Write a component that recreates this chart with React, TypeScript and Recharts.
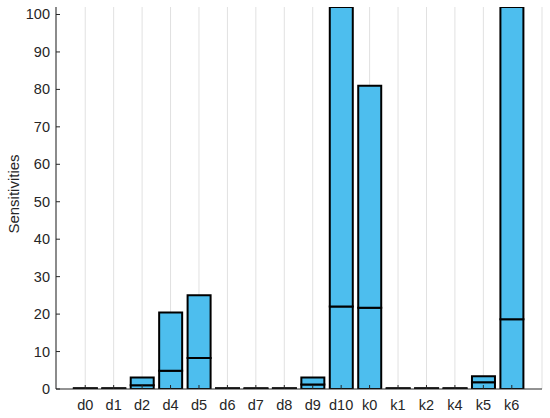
import { BarChart, Bar, XAxis, YAxis, CartesianGrid, Label } from "recharts";

const categories = ["d0", "d1", "d2", "d4", "d5", "d6", "d7", "d8", "d9", "d10", "k0", "k1", "k2", "k4", "k5", "k6"];
// lower part of each bar
const lowerValues = [0.1, 0.1, 1.0, 4.9, 8.3, 0.1, 0.1, 0.1, 1.2, 22.0, 21.7, 0.1, 0.1, 0.1, 1.8, 18.6];
// upper part stacked on top (d10 and k6 run past the axis limit)
const upperValues = [0.1, 0.1, 2.1, 15.5, 16.7, 0.1, 0.1, 0.1, 1.9, 118, 59.3, 0.1, 0.1, 0.1, 1.6, 121.4];
const yTicks = [0, 10, 20, 30, 40, 50, 60, 70, 80, 90, 100];

const data = categories.map((name, i) => ({
  name,
  lower: lowerValues[i],
  upper: upperValues[i],
}));

const FONT = "'Liberation Sans', Arial, sans-serif";
const INK = "#262626";
const FILL = "#4DBEEE";
const TICK_LEN = 4;

const BottomTick = (props: any) => {
  const { x, y, payload } = props;
  return (
    <g>
      <line x1={x} x2={x} y1={y} y2={y - TICK_LEN} stroke={INK} strokeWidth={1} />
      <text x={x} y={y + 21} textAnchor="middle" fill={INK} fontSize={14.5} fontFamily={FONT}>
        {payload.value}
      </text>
    </g>
  );
};

const TopTick = (props: any) => {
  const { x, y } = props;
  return <line x1={x} x2={x} y1={y} y2={y + TICK_LEN} stroke={INK} strokeWidth={1} />;
};

const LeftTick = (props: any) => {
  const { x, y, payload } = props;
  return (
    <g>
      <line x1={x} x2={x + TICK_LEN} y1={y} y2={y} stroke={INK} strokeWidth={1} />
      <text x={x - 6} y={y + 5} textAnchor="end" fill={INK} fontSize={14.5} fontFamily={FONT}>
        {payload.value}
      </text>
    </g>
  );
};

const RightTick = (props: any) => {
  const { x, y } = props;
  return <line x1={x} x2={x - TICK_LEN} y1={y} y2={y} stroke={INK} strokeWidth={1} />;
};

export default function App() {
  return (
    <div style={{ position: "absolute", left: 0, top: 0, background: "#fff" }}>
      <BarChart
        width={550}
        height={418}
        data={data}
        margin={{ top: 7, right: 8, bottom: 0, left: 0 }}
        barCategoryGap="10%"
      >
        <CartesianGrid horizontal={false} stroke="#e1e1e1" strokeWidth={1} />
        <XAxis
          dataKey="name"
          height={29}
          padding={{ left: 15, right: 16 }}
          tickSize={0}
          tickMargin={0}
          tickLine={false}
          interval={0}
          axisLine={{ stroke: INK }}
          tick={<BottomTick />}
        />
        <XAxis
          xAxisId="top"
          dataKey="name"
          orientation="top"
          height={0}
          padding={{ left: 15, right: 16 }}
          tickSize={0}
          tickMargin={0}
          tickLine={false}
          interval={0}
          axisLine={{ stroke: INK }}
          tick={<TopTick />}
        />
        <YAxis
          width={56}
          domain={[0, 102]}
          ticks={yTicks}
          allowDataOverflow
          tickSize={0}
          tickMargin={0}
          tickLine={false}
          interval={0}
          axisLine={{ stroke: INK }}
          tick={<LeftTick />}
        >
          <Label
            content={(p: any) => {
              const vb = p.viewBox;
              const cx = 13;
              const cy = vb.y + vb.height / 2 - 4;
              return (
                <text
                  x={cx}
                  y={cy}
                  transform={`rotate(-90 ${cx} ${cy})`}
                  textAnchor="middle"
                  dominantBaseline="central"
                  fill={INK}
                  fontSize={15}
                  fontFamily={FONT}
                >
                  Sensitivities
                </text>
              );
            }}
          />
        </YAxis>
        <YAxis
          yAxisId="right"
          orientation="right"
          width={0}
          domain={[0, 102]}
          ticks={yTicks}
          allowDataOverflow
          tickSize={0}
          tickMargin={0}
          tickLine={false}
          interval={0}
          axisLine={{ stroke: INK }}
          tick={<RightTick />}
        />
        <Bar dataKey="lower" stackId="s" fill={FILL} stroke="#000" strokeWidth={2} isAnimationActive={false} />
        <Bar dataKey="upper" stackId="s" fill={FILL} stroke="#000" strokeWidth={2} isAnimationActive={false} />
      </BarChart>
    </div>
  );
}
